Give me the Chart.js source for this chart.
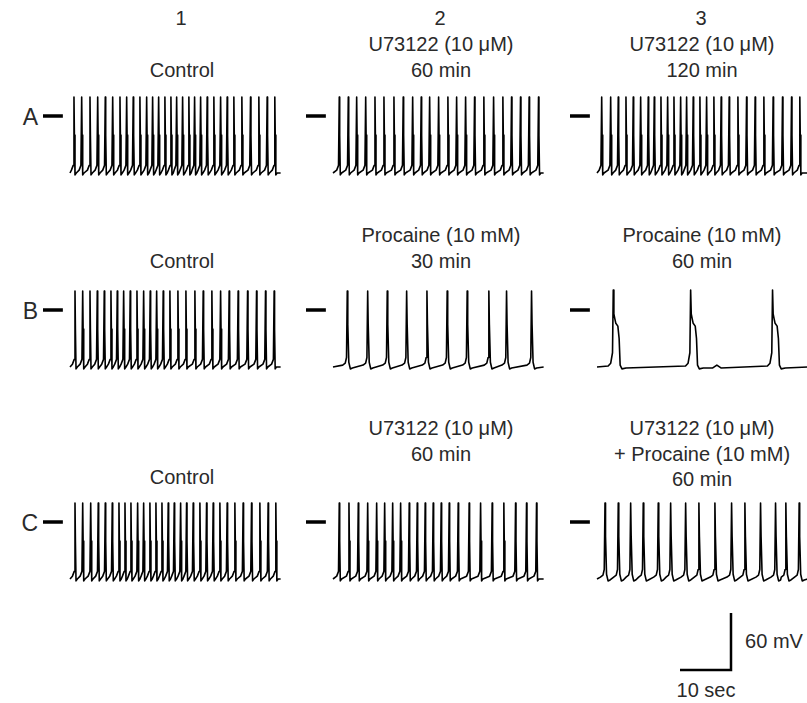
<!DOCTYPE html>
<html>
<head>
<meta charset="utf-8">
<script src="https://cdn.jsdelivr.net/npm/chart.js@4.4.1/dist/chart.umd.min.js"></script>
<style>
  html, body { margin: 0; padding: 0; background: #fff; }
  #page { position: relative; width: 807px; height: 703px; overflow: hidden; background: #fff; }
  #page canvas { position: absolute; }
  .lbl {
    position: absolute; transform: translate(-50%, -50%); white-space: nowrap;
    font-family: "Liberation Sans", Arial, sans-serif; font-size: 20px; color: #2a2a2a;
  }
  .row { font-size: 23px; transform: translate(-100%, -50%); }
</style>
</head>
<body>
<div id="page"></div>
<script>
// ---------- Data ----------
const columns = ['1', '2', '3'];
const rows = ['A', 'B', 'C'];

const titlesA = [['Control'], ['U73122 (10 μM)', '60 min'], ['U73122 (10 μM)', '120 min']];
const titlesB = [['Control'], ['Procaine (10 mM)', '30 min'], ['Procaine (10 mM)', '60 min']];
const titlesC = [['Control'], ['U73122 (10 μM)', '60 min'], ['U73122 (10 μM)', '+ Procaine (10 mM)', '60 min']];

// spike peak times (sec from start of sweep)
const spikesA1 = [0.78, 2.29, 3.92, 5.43, 6.92, 8.37, 9.80, 11.11, 12.40, 13.71, 15.03, 16.20, 17.38, 18.61, 19.79,
  20.91, 22.08, 23.31, 24.43, 25.61, 26.90, 28.21, 29.53, 30.82, 32.13, 33.70, 35.40, 37.03, 38.66, 40.16];
const spikesA2 = [1.23, 3.00, 4.64, 6.41, 8.23, 9.99, 11.95, 13.77, 15.62, 17.30, 18.95, 20.71, 22.53, 24.24,
  26.00, 27.76, 29.58, 31.49, 33.31, 35.01, 36.77, 38.46, 40.30];
const spikesA3 = [0.92, 2.68, 4.17, 5.68, 7.11, 8.56, 10.05, 11.23, 12.54, 13.85, 15.09, 16.40, 17.57, 18.87,
  20.18, 21.49, 22.92, 24.35, 25.92, 27.63, 29.33, 31.01, 32.72, 34.54, 36.38, 38.15, 39.77];
const spikesB1 = [0.98, 2.49, 3.92, 5.35, 6.72, 8.03, 9.27, 10.52, 11.81, 13.13, 14.44, 15.73, 16.99, 18.28,
  19.59, 21.16, 22.73, 24.49, 26.12, 27.82, 29.53, 31.21, 32.97, 34.82, 36.58, 38.34, 40.03];
const spikesB2 = [2.80, 6.80, 10.64, 14.44, 18.42, 22.39, 26.31, 30.56, 34.03, 38.93];
const spikesB3 = [3.19, 18.36, 34.42];
const bumpsB3 = [23.5];
const spikesC1 = [0.98, 2.49, 4.06, 5.54, 6.92, 8.29, 9.60, 10.78, 11.95, 13.26, 14.44, 15.67, 16.85, 18.03, 19.26,
  20.44, 21.69, 22.86, 24.16, 25.47, 26.78, 28.08, 29.39, 30.82, 32.33, 33.95, 35.60, 37.23, 38.85, 40.36];
const spikesC2 = [1.23, 3.13, 4.96, 6.80, 8.56, 10.13, 11.70, 13.26, 14.95, 16.52, 18.08, 19.65, 21.22, 22.79,
  24.55, 26.70, 28.94, 31.21, 33.50, 35.80, 37.95, 39.91];
const spikesC3 = [1.57, 4.17, 6.60, 9.07, 12.01, 14.44, 17.38, 19.98, 23.12, 26.39, 29.00, 32.07, 35.01, 37.03, 39.64];

// action potential shapes: time from peak (sec) and membrane potential (mV)
const fastT = [-0.5, -0.15, 0, 0.08, 0.2, 0.45];
const fastV = [-57, -52, 20, -20, -62, -60];
const slowT = [-0.9, -0.4, -0.15, 0, 0.1, 0.3, 0.6, 1.0];
const slowV = [-58, -56, -50, 20, -15, -55, -62, -61];
const plateauT = [-1.0, -0.5, -0.15, 0, 0.12, 0.3, 0.5, 0.9, 1.15, 1.35, 1.7, 2.5];
const plateauV = [-59, -56, -45, 21, -4, -9, -14, -17, -30, -58, -62, -61];
const bumpT = [-0.8, 0, 0.8];
const bumpV = [-61, -58, -61];

const sweepSec = 41.3;
const restMv = -60;
const scaleBarSec = 10;
const scaleBarMv = 60;

// ---------- Layout ----------
const PX_PER_SEC = 5.1;
const PX_PER_MV = 0.95;
const colX = [70, 333, 597];      // page x of t = 0
const rowY = [116, 310, 522];     // page y of 0 mV
const colCenter = [182, 441, 702];
const page = document.getElementById('page');

function addText(text, x, y, cls) {
  const d = document.createElement('div');
  d.className = 'lbl' + (cls ? ' ' + cls : '');
  d.textContent = text;
  d.style.left = x + 'px';
  d.style.top = y + 'px';
  page.appendChild(d);
}

function buildTrace(spikes, shapeT, shapeV, extraTimes, extraT, extraV) {
  const pts = [{ x: 0, y: restMv }];
  const add = (times, tt, vv) => times.forEach(t => tt.forEach((dt, i) => {
    const x = t + dt;
    if (x > 0 && x < sweepSec) pts.push({ x, y: vv[i] });
  }));
  add(spikes, shapeT, shapeV);
  if (extraTimes) add(extraTimes, extraT, extraV);
  pts.push({ x: sweepSec, y: restMv });
  return pts.sort((a, b) => a.x - b.x);
}

// chart whose (0 s, 0 mV) sits at page point (ox, oy)
function makeChart(left, top, w, h, ox, oy, datasets) {
  const c = document.createElement('canvas');
  c.width = w; c.height = h;
  c.style.left = left + 'px'; c.style.top = top + 'px';
  c.style.width = w + 'px'; c.style.height = h + 'px';
  page.appendChild(c);
  return new Chart(c.getContext('2d'), {
    type: 'line',
    data: { datasets },
    options: {
      responsive: false, animation: false, events: [],
      layout: { padding: 0 },
      plugins: { legend: { display: false }, tooltip: { enabled: false } },
      elements: { point: { radius: 0 }, line: { tension: 0 } },
      scales: {
        x: { type: 'linear', display: false, min: (left - ox) / PX_PER_SEC, max: (left + w - ox) / PX_PER_SEC },
        y: { type: 'linear', display: false, min: (oy - top - h) / PX_PER_MV, max: (oy - top) / PX_PER_MV }
      }
    }
  });
}

const traces = [
  [buildTrace(spikesA1, fastT, fastV), buildTrace(spikesA2, fastT, fastV), buildTrace(spikesA3, fastT, fastV)],
  [buildTrace(spikesB1, fastT, fastV), buildTrace(spikesB2, slowT, slowV), buildTrace(spikesB3, plateauT, plateauV, bumpsB3, bumpT, bumpV)],
  [buildTrace(spikesC1, fastT, fastV), buildTrace(spikesC2, fastT, fastV), buildTrace(spikesC3, slowT, slowV)]
];
const titles = [titlesA, titlesB, titlesC];
const titleTop = [[70, 44, 44], [261, 235, 235], [477, 428, 428]];

// ---------- Panels ----------
rows.forEach((r, ri) => {
  addText(r, 38, rowY[ri] + 1, 'row');
  columns.forEach((c, ci) => {
    const ox = colX[ci], oy = rowY[ri];
    makeChart(ox - 32, oy - 30, 250, 104, ox, oy, [
      { data: [{ x: -5.3, y: 0 }, { x: -1.4, y: 0 }], borderColor: '#000', borderWidth: 3.5, borderCapStyle: 'butt' },
      { data: traces[ri][ci], borderColor: '#000', borderWidth: 1.6, borderJoinStyle: 'round' }
    ]);
    titles[ri][ci].forEach((line, li) => addText(line, colCenter[ci], titleTop[ri][ci] + li * 25.5));
  });
});
columns.forEach((c, ci) => addText(c, colCenter[ci] - 1, 18));

// ---------- Scale bar ----------
makeChart(670, 605, 70, 72, 731, 670, [
  { data: [{ x: -scaleBarSec, y: 0 }, { x: 0, y: 0 }, { x: 0, y: scaleBarMv }],
    borderColor: '#000', borderWidth: 2.5, borderJoinStyle: 'miter', borderCapStyle: 'butt' }
]);
addText(scaleBarMv + ' mV', 774, 641);
addText(scaleBarSec + ' sec', 706, 690);
</script>
</body>
</html>
